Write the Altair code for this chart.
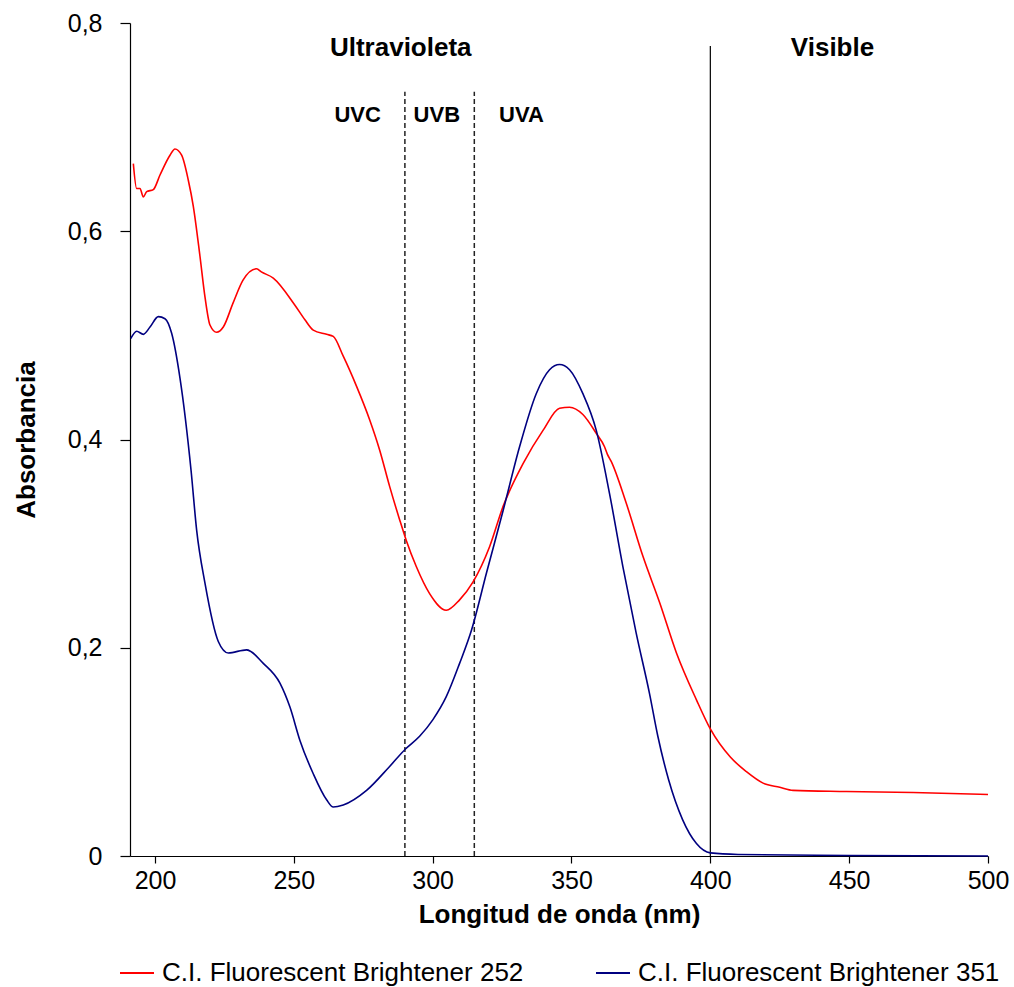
import altair as alt
import pandas as pd

# --- data ---
wl_252 = [192.2, 193.4, 194.6, 195.8, 197.0, 199.4, 201.8, 205.4, 207.2, 209.6, 212.0, 213.8,
          216.2, 218.0, 219.8, 222.2, 224.6, 228.1, 231.7, 236.6, 238.3, 242.6, 250.4, 254.0,
          257.0, 261.8, 264.2, 267.8, 272.6, 277.3, 280.9, 284.5, 288.1, 290.5, 294.1, 298.9,
          304.9, 309.7, 314.5, 320.5, 325.4, 332.6, 339.8, 345.7, 349.3, 354.1, 358.9, 361.9,
          362.9, 364.3, 369.7, 375.7, 381.8, 387.8, 395.0, 400.0, 407.2, 413.0, 419.0, 425.0,
          429.8, 449.0, 473.0, 500.0]
abs_252 = [0.665, 0.641, 0.641, 0.633, 0.638, 0.640, 0.654, 0.673, 0.679, 0.673, 0.649, 0.624,
           0.576, 0.537, 0.510, 0.503, 0.508, 0.531, 0.553, 0.564, 0.561, 0.555, 0.529, 0.515,
           0.505, 0.501, 0.499, 0.480, 0.451, 0.419, 0.390, 0.355, 0.323, 0.303, 0.278, 0.252,
           0.236, 0.246, 0.263, 0.297, 0.336, 0.377, 0.409, 0.430, 0.431, 0.424, 0.406, 0.393,
           0.386, 0.379, 0.339, 0.288, 0.243, 0.195, 0.150, 0.122, 0.095, 0.081, 0.070, 0.066,
           0.063, 0.062, 0.061, 0.059]

wl_351 = [191.3, 193.4, 195.8, 198.2, 201.2, 203.6, 206.0, 209.0, 213.0, 215.0, 218.0, 222.8,
          226.4, 233.0, 239.0, 245.0, 248.6, 252.2, 257.0, 261.8, 264.2, 267.8, 276.2, 284.5,
          290.3, 295.3, 300.1, 304.9, 309.7, 314.0, 319.4, 325.4, 331.3, 337.3, 342.1, 345.7,
          349.3, 354.1, 358.9, 363.7, 368.5, 373.3, 378.1, 381.1, 385.0, 390.0, 395.0, 400.0,
          410.0, 450.0, 500.0]
abs_351 = [0.497, 0.504, 0.501, 0.508, 0.518, 0.516, 0.502, 0.459, 0.370, 0.313, 0.262, 0.206,
           0.195, 0.198, 0.185, 0.166, 0.143, 0.111, 0.079, 0.054, 0.047, 0.049, 0.063, 0.086,
           0.103, 0.115, 0.131, 0.153, 0.185, 0.217, 0.272, 0.332, 0.393, 0.444, 0.467, 0.472,
           0.467, 0.444, 0.409, 0.348, 0.278, 0.214, 0.156, 0.115, 0.073, 0.035, 0.012, 0.003,
           0.0015, 0.0005, 0.0]

series_names = ["C.I. Fluorescent Brightener 252", "C.I. Fluorescent Brightener 351"]
series_colors = ["#FF0000", "#000080"]

x_ticks = [200, 250, 300, 350, 400, 450, 500]
y_ticks = [0, 0.2, 0.4, 0.6, 0.8]

# region boundaries
rule_x = [290, 315, 400]
rule_top = [0.734, 0.734, 0.778]
rule_dash = ["dash", "dash", "solid"]

# region labels
lab_text = ["Ultravioleta", "Visible"]
lab_x = [288.5, 444.0]
lab_y = [0.776, 0.776]
sub_text = ["UVC", "UVB", "UVA"]
sub_x = [273.0, 301.5, 332.0]
sub_y = [0.712, 0.712, 0.712]

# --- tables ---
lines = pd.concat([
    pd.DataFrame({"wl": wl_252, "abs": abs_252, "serie": series_names[0], "o": range(len(wl_252))}),
    pd.DataFrame({"wl": wl_351, "abs": abs_351, "serie": series_names[1], "o": range(len(wl_351))}),
])
rules = pd.DataFrame({"x": rule_x, "y0": [0] * 3, "y1": rule_top, "kind": rule_dash})
labs = pd.DataFrame({"x": lab_x, "y": lab_y, "t": lab_text})
subs = pd.DataFrame({"x": sub_x, "y": sub_y, "t": sub_text})

FONT = "Liberation Sans"
xscale = alt.Scale(domain=[191, 500], nice=False, zero=False)
yscale = alt.Scale(domain=[0, 0.8], nice=False)

line_layer = alt.Chart(lines).mark_line(strokeWidth=1.6, interpolate="monotone").encode(
    x=alt.X("wl:Q", scale=xscale,
            axis=alt.Axis(title="Longitud de onda (nm)", values=x_ticks, grid=False,
                          domainColor="black", tickColor="black", tickSize=7,
                          labelFontSize=25, labelFont=FONT, labelColor="black",
                          labelPadding=5, labelFlush=False, labelOverlap=False,
                          titleFontSize=26, titleFont=FONT,
                          titleFontWeight="bold", titleColor="black", titlePadding=8,
                          domainWidth=1.2, tickWidth=1.2)),
    y=alt.Y("abs:Q", scale=yscale,
            axis=alt.Axis(title="Absorbancia", values=y_ticks, grid=False,
                          labelExpr="datum.value == 0 ? '0' : replace(format(datum.value, '.1f'), '.', ',')",
                          domainColor="black", tickColor="black", tickSize=10,
                          labelFontSize=25, labelFont=FONT, labelColor="black",
                          labelPadding=18, labelFlush=False,
                          titleFontSize=26, titleFont=FONT,
                          titleFontWeight="bold", titleColor="black", titlePadding=28,
                          domainWidth=1.2, tickWidth=1.2)),
    color=alt.Color("serie:N",
                    scale=alt.Scale(domain=series_names, range=series_colors),
                    legend=alt.Legend(title=None, orient="none", direction="horizontal",
                                      legendX=-11, legendY=932, padding=0,
                                      symbolType="stroke", symbolSize=1156,
                                      symbolStrokeWidth=2, labelFontSize=26,
                                      labelFont=FONT, labelColor="black",
                                      labelLimit=700, labelOffset=7,
                                      columnPadding=68)),
    order="o:Q",
)

rule_dashed = alt.Chart(rules).transform_filter("datum.kind == 'dash'").mark_rule(
    color="#222222", strokeWidth=1.5, strokeDash=[5, 3]).encode(
    x=alt.X("x:Q", scale=xscale), y=alt.Y("y0:Q", scale=yscale), y2="y1:Q")
rule_solid = alt.Chart(rules).transform_filter("datum.kind == 'solid'").mark_rule(
    color="black", strokeWidth=1.2).encode(
    x=alt.X("x:Q", scale=xscale), y=alt.Y("y0:Q", scale=yscale), y2="y1:Q")

lab_layer = alt.Chart(labs).mark_text(fontSize=26, fontWeight="bold", font=FONT,
                                      color="black", baseline="middle").encode(
    x=alt.X("x:Q", scale=xscale), y=alt.Y("y:Q", scale=yscale), text="t:N")
sub_layer = alt.Chart(subs).mark_text(fontSize=22, fontWeight="bold", font=FONT,
                                      color="black", baseline="middle").encode(
    x=alt.X("x:Q", scale=xscale), y=alt.Y("y:Q", scale=yscale), text="t:N")

chart = alt.layer(rule_dashed, rule_solid, line_layer, lab_layer, sub_layer).properties(
    width=858, height=833,
    autosize=alt.AutoSizeParams(type="none"),
    padding={"left": 130, "top": 23, "right": 26, "bottom": 131},
    background="white",
).configure_view(stroke=None)

chart.save("out.html", embed_options={"renderer": "svg", "actions": False})
